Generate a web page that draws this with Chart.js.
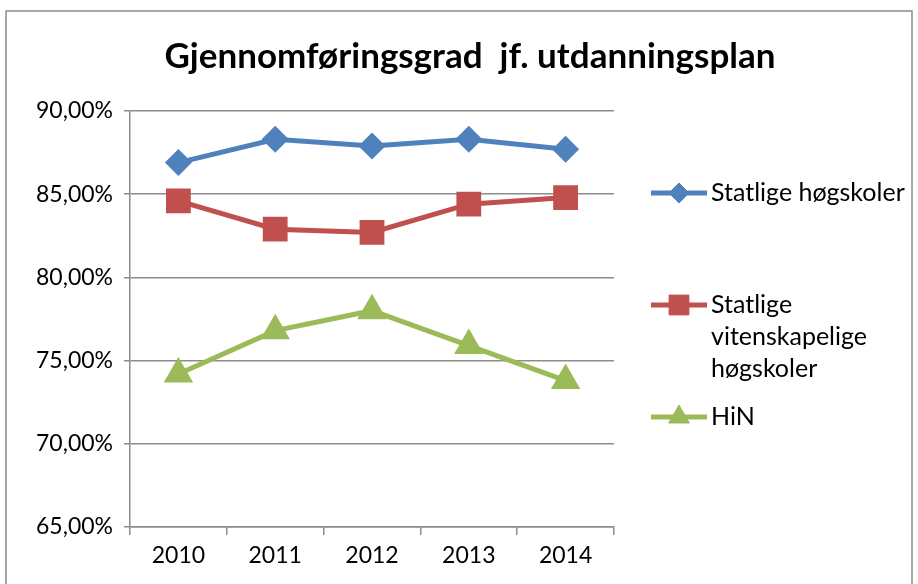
<!DOCTYPE html>
<html>
<head>
<meta charset="utf-8">
<script src="https://cdn.jsdelivr.net/npm/chart.js@4.4.1/dist/chart.umd.min.js"></script>
<style>
  html, body { margin: 0; padding: 0; background: #fff; }
  #wrap { width: 918px; height: 584px; position: relative; }
</style>
</head>
<body>
<div id="wrap"><canvas id="chart" width="918" height="584"></canvas></div>
<script>
// data
const years = ["2010", "2011", "2012", "2013", "2014"];
const statligeHogskoler = [86.9, 88.3, 87.9, 88.3, 87.7];
const vitenskapelige = [84.6, 82.9, 82.7, 84.4, 84.8];
const hin = [74.2, 76.8, 78.0, 75.9, 73.8];
const yTicks = [65, 70, 75, 80, 85, 90];

const chartTitle = "Gjennomføringsgrad  jf. utdanningsplan";
const fontFamily = "Lato, 'Open Sans', sans-serif";
const gridColor = "#8c8c8c";

// legend rows (text lines for wrapped labels)
const legendRows = [
  { lines: ["Statlige høgskoler"], y: 193 },
  { lines: ["Statlige", "vitenskapelige", "høgskoler"], y: 305 },
  { lines: ["HiN"], y: 417 }
];

// frame, title and legend drawn by hand
const decorPlugin = {
  id: "decor",
  afterDraw(chart) {
    const ctx = chart.ctx;
    ctx.save();
    ctx.strokeStyle = "#8c8c8c";
    ctx.lineWidth = 1.5;
    ctx.strokeRect(6, 11, 906, 600);

    ctx.fillStyle = "#000";
    ctx.font = "bold 35px " + fontFamily;
    ctx.textAlign = "center";
    ctx.textBaseline = "middle";
    ctx.fillText(chartTitle, 470, 57);

    ctx.font = "25px " + fontFamily;
    ctx.textAlign = "left";
    chart.data.datasets.forEach(function(ds, i) {
      const row = legendRows[i];
      ctx.strokeStyle = ds.borderColor;
      ctx.fillStyle = ds.borderColor;
      ctx.lineWidth = 5;
      ctx.beginPath();
      ctx.moveTo(651, row.y);
      ctx.lineTo(707, row.y);
      ctx.stroke();
      ctx.lineWidth = 1;
      Chart.helpers.drawPoint(ctx, {
        pointStyle: ds.pointStyle,
        radius: ds.pointRadius,
        borderWidth: 1
      }, 679, row.y);
      ctx.fillStyle = "#000";
      row.lines.forEach(function(line, j) {
        ctx.fillText(line, 711, row.y + j * 32);
      });
    });
    ctx.restore();
  }
};

function makeSet(label, values, color, style, radius) {
  return {
    label: label,
    data: values,
    borderColor: color,
    backgroundColor: color,
    pointBackgroundColor: color,
    pointBorderColor: color,
    borderWidth: 5,
    pointStyle: style,
    pointRadius: radius,
    pointHoverRadius: radius,
    tension: 0
  };
}

new Chart(document.getElementById("chart"), {
  type: "line",
  data: {
    labels: years,
    datasets: [
      makeSet("Statlige høgskoler", statligeHogskoler, "#4f81bd", "rectRot", 10),
      makeSet("Statlige vitenskapelige høgskoler", vitenskapelige, "#c0504d", "rect", 14),
      makeSet("HiN", hin, "#9bbb59", "triangle", 12)
    ]
  },
  options: {
    responsive: false,
    animation: false,
    layout: { padding: { top: 111, right: 304, left: 0, bottom: 0 } },
    plugins: {
      legend: { display: false },
      title: { display: false },
      tooltip: { enabled: false }
    },
    scales: {
      x: {
        offset: true,
        grid: {
          offset: true,
          drawOnChartArea: false,
          color: gridColor,
          lineWidth: 1.5,
          tickLength: 8
        },
        border: { color: gridColor, width: 1.5 },
        ticks: {
          color: "#000",
          font: { family: fontFamily, size: 23 },
          padding: 7
        },
        afterFit(scale) { scale.height = 57; }
      },
      y: {
        min: 65,
        max: 90,
        afterBuildTicks(scale) {
          scale.ticks = yTicks.map(function(v) { return { value: v }; });
        },
        grid: {
          color: gridColor,
          lineWidth: 1.5,
          tickLength: 6
        },
        border: { color: gridColor, width: 1.5 },
        ticks: {
          color: "#000",
          font: { family: fontFamily, size: 23 },
          padding: 11,
          callback(v) { return v.toFixed(2).replace(".", ",") + "%"; }
        },
        afterFit(scale) { scale.width = 130; }
      }
    }
  },
  plugins: [decorPlugin]
});
</script>
</body>
</html>
